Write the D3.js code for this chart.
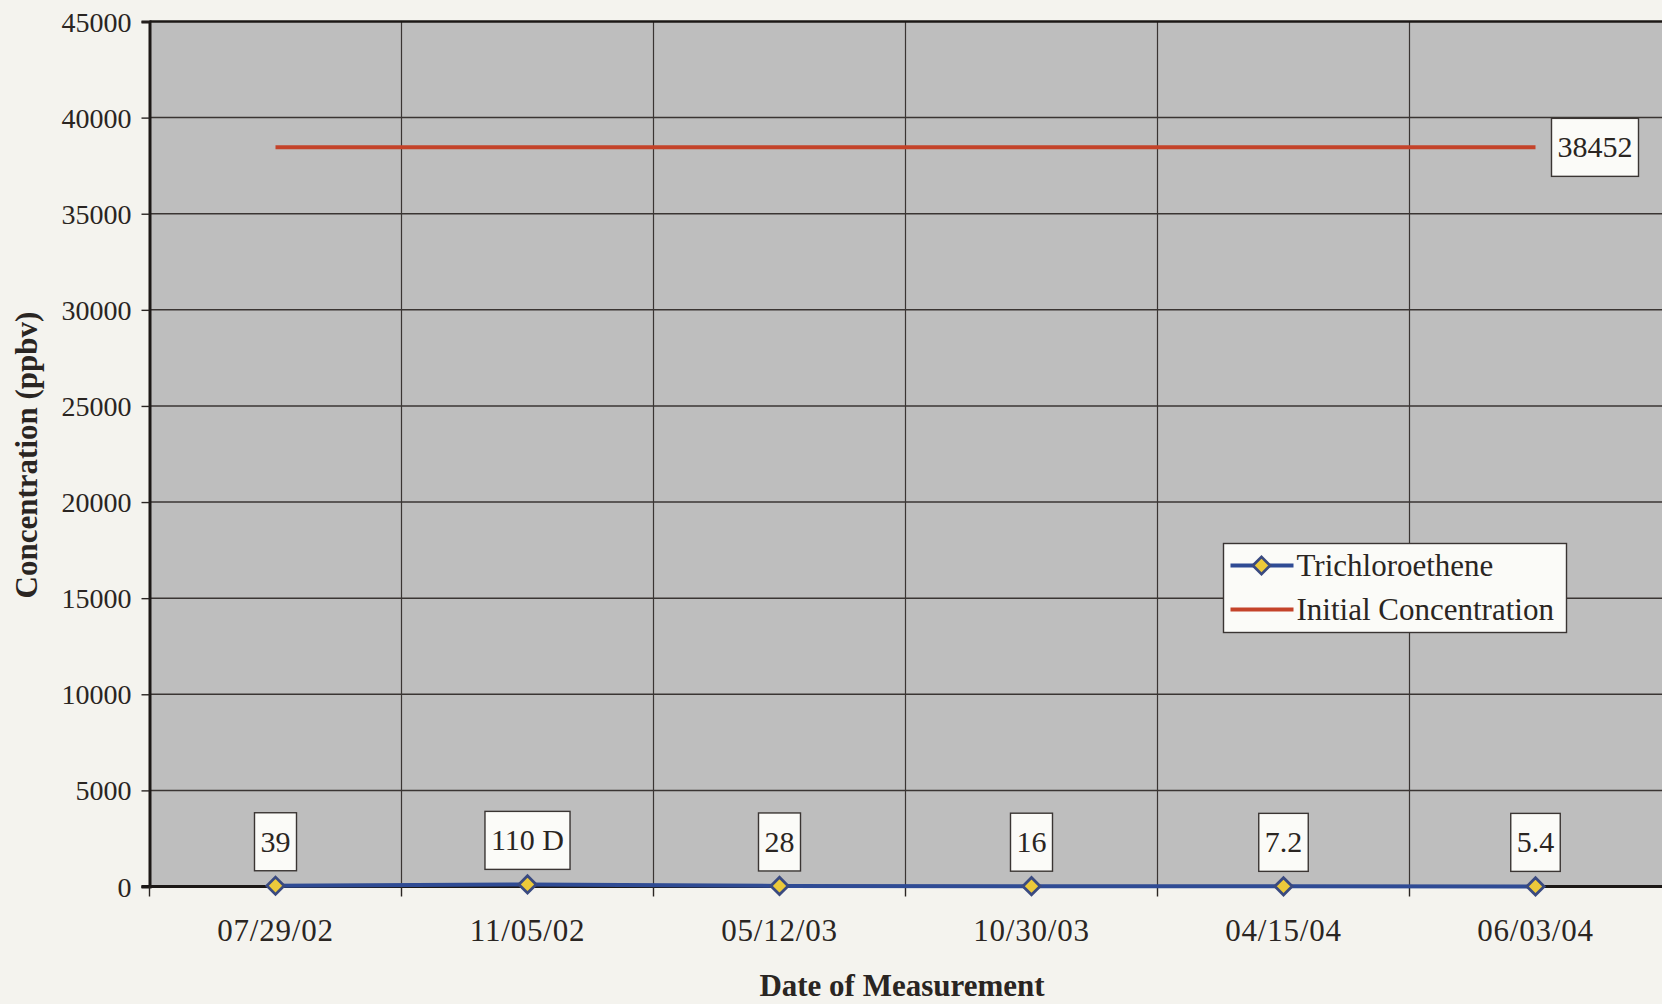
<!DOCTYPE html>
<html>
<head>
<meta charset="utf-8">
<script src="https://cdn.jsdelivr.net/npm/d3@7"></script>
<style>
  html, body { margin: 0; padding: 0; background: #f4f3ee; }
  svg { display: block; }
  text { font-family: "Liberation Serif", "DejaVu Serif", serif; fill: #2a2522; }
</style>
</head>
<body>
<svg id="chart" width="1662" height="1004"></svg>
<script>
// Measurement dates and trichloroethene concentrations (ppbv)
const dates = ["07/29/02", "11/05/02", "05/12/03", "10/30/03", "04/15/04", "06/03/04"];
const tceValues = [39, 110, 28, 16, 7.2, 5.4];
const tceLabels = ["39", "110 D", "28", "16", "7.2", "5.4"];
const initialConcentration = [38452, 38452, 38452, 38452, 38452, 38452];
const yTickValues = [0, 5000, 10000, 15000, 20000, 25000, 30000, 35000, 40000, 45000];
const seriesNames = ["Trichloroethene", "Initial Concentration"];

const plot = { left: 149.5, top: 21.5, right: 1662, bottom: 886.5 };
const svg = d3.select("#chart");

const x = d3.scaleBand().domain(dates).range([plot.left, plot.left + 6 * 252]).padding(0);
const y = d3.scaleLinear().domain([0, 45000]).range([plot.bottom, plot.top]);
const cx = d => x(d) + x.bandwidth() / 2;

const ink = "#2a2522";
const gridColor = "#3a3533";
const fontFam = '"Liberation Serif", serif';

// plot area
svg.append("rect")
  .attr("x", plot.left).attr("y", plot.top)
  .attr("width", plot.right - plot.left).attr("height", plot.bottom - plot.top)
  .attr("fill", "#bebebe");

// horizontal gridlines
svg.append("g").selectAll("line")
  .data(yTickValues.filter(v => v > 0 && v < 45000))
  .join("line")
  .attr("x1", plot.left).attr("x2", plot.right)
  .attr("y1", d => y(d)).attr("y2", d => y(d))
  .attr("stroke", gridColor).attr("stroke-width", 1.5);

// vertical gridlines between categories
svg.append("g").selectAll("line")
  .data(dates.slice(1))
  .join("line")
  .attr("x1", d => x(d)).attr("x2", d => x(d))
  .attr("y1", plot.top).attr("y2", plot.bottom)
  .attr("stroke", gridColor).attr("stroke-width", 1.2);

// top border
svg.append("line")
  .attr("x1", plot.left).attr("x2", plot.right)
  .attr("y1", plot.top).attr("y2", plot.top)
  .attr("stroke", "#1c1816").attr("stroke-width", 2.5);

// y axis
const yAxis = svg.append("g")
  .attr("transform", `translate(${plot.left},0)`)
  .call(d3.axisLeft(y).tickValues(yTickValues).tickSize(8).tickPadding(10).tickFormat(d3.format("d")));
yAxis.select(".domain").attr("stroke", "#1c1816").attr("stroke-width", 3);
yAxis.selectAll(".tick line").attr("stroke", ink).attr("stroke-width", 1.4);
yAxis.selectAll(".tick text")
  .style("font-family", fontFam)
  .style("font-size", "28px").attr("fill", ink).attr("dy", "0.34em");

// x axis: baseline, ticks between categories, labels at centers
svg.append("line")
  .attr("x1", plot.left - 8).attr("x2", plot.right)
  .attr("y1", plot.bottom).attr("y2", plot.bottom)
  .attr("stroke", "#1c1816").attr("stroke-width", 3);
svg.append("g").selectAll("line")
  .data(dates)
  .join("line")
  .attr("x1", d => x(d)).attr("x2", d => x(d))
  .attr("y1", plot.bottom).attr("y2", plot.bottom + 10)
  .attr("stroke", ink).attr("stroke-width", 1.4);
const xAxis = svg.append("g")
  .attr("transform", `translate(0,${plot.bottom})`)
  .call(d3.axisBottom(x).tickSize(0).tickPadding(32));
xAxis.select(".domain").remove();
xAxis.selectAll(".tick text")
  .style("font-family", fontFam)
  .style("font-size", "31px").style("letter-spacing", "0.8px").attr("fill", ink);

// axis titles
svg.append("text")
  .attr("transform", `translate(37,${(plot.top + plot.bottom) / 2 + 1}) rotate(-90)`)
  .attr("text-anchor", "middle")
  .style("font-size", "31px").style("font-weight", "bold")
  .text("Concentration (ppbv)");
svg.append("text")
  .attr("x", 902).attr("y", 996)
  .attr("text-anchor", "middle")
  .style("font-size", "31px").style("font-weight", "bold")
  .text("Date of Measurement");

// initial concentration line
const seriesLine = d3.line().x((d, i) => cx(dates[i])).y(d => y(d));
svg.append("path")
  .datum(initialConcentration)
  .attr("d", seriesLine)
  .attr("fill", "none").attr("stroke", "#c4432a").attr("stroke-width", 4);

// trichloroethene series
svg.append("path")
  .datum(tceValues)
  .attr("d", seriesLine)
  .attr("fill", "none").attr("stroke", "#2f4b94").attr("stroke-width", 4);

const diamond = d3.symbol().type(d3.symbolDiamond2).size(190);
svg.append("g").selectAll("path")
  .data(tceValues)
  .join("path")
  .attr("d", diamond)
  .attr("transform", (d, i) => `translate(${cx(dates[i])},${y(d)})`)
  .attr("fill", "#ecc93a").attr("stroke", "#3a4a80").attr("stroke-width", 2.8);

// boxed value labels; (px, py) is the centre of the box
function boxedLabel(g, txt, px, py, anchor) {
  const t = g.append("text")
    .attr("x", px).attr("y", py + 10)
    .attr("text-anchor", anchor)
    .style("font-size", "30px")
    .text(txt);
  const bb = t.node().getBBox();
  g.insert("rect", "text")
    .attr("x", bb.x - 6).attr("y", py - 29)
    .attr("width", bb.width + 12).attr("height", 58)
    .attr("fill", "#fbfbf8").attr("stroke", gridColor).attr("stroke-width", 1.4);
}
const labelG = svg.append("g");
tceValues.forEach((v, i) => {
  boxedLabel(labelG.append("g"), tceLabels[i], cx(dates[i]), y(v) - 44, "middle");
});
const lastIdx = dates.length - 1;
boxedLabel(labelG.append("g"), String(initialConcentration[lastIdx]),
  cx(dates[lastIdx]) + 22, y(initialConcentration[lastIdx]), "start");

// legend
const lg = svg.append("g").attr("transform", "translate(1223.5,543.5)");
lg.append("rect").attr("width", 343).attr("height", 89)
  .attr("fill", "#fbfbf8").attr("stroke", gridColor).attr("stroke-width", 1.4);
const rows = [
  { name: seriesNames[0], color: "#2f4b94", marker: true, yy: 22 },
  { name: seriesNames[1], color: "#c4432a", marker: false, yy: 66 }
];
rows.forEach(r => {
  lg.append("line").attr("x1", 7).attr("x2", 70).attr("y1", r.yy).attr("y2", r.yy)
    .attr("stroke", r.color).attr("stroke-width", 4);
  if (r.marker) {
    lg.append("path").attr("d", diamond)
      .attr("transform", `translate(38,${r.yy})`)
      .attr("fill", "#ecc93a").attr("stroke", "#3a4a80").attr("stroke-width", 2.8);
  }
  lg.append("text").attr("x", 73).attr("y", r.yy).attr("dy", "0.34em")
    .style("font-size", "31px").text(r.name);
});
</script>
</body>
</html>
